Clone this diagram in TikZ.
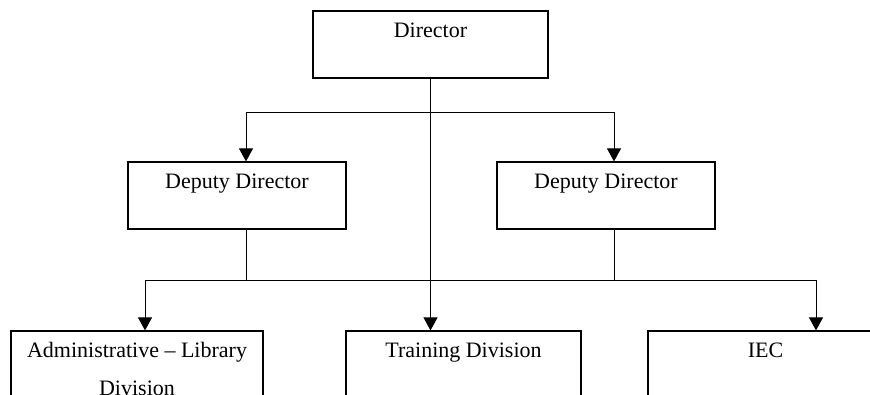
\documentclass[tikz,border=0pt]{standalone}
\usepackage{fontspec}
\setmainfont{Liberation Serif}
\usetikzlibrary{arrows.meta}

\tikzset{
  orgbox/.style={draw=black, line width=1.2pt, rectangle, inner sep=0pt, minimum height=67pt},
  orglabel/.style={inner sep=0pt, font=\fontsize{22}{37.5}\selectfont, align=center},
  link/.style={draw=black, line width=1pt},
  arr/.style={link, -{Triangle[width=14pt,length=13pt]}}
}

\begin{document}
\begin{tikzpicture}[x=1pt, y=-1pt]
  \useasboundingbox (0,0) rectangle (870,394);
  \clip (0,0) rectangle (870,394);

  % boxes
  \node[orgbox, minimum width=235pt] (dir)  at (430.5,44.5) {};
  \node[orgbox, minimum width=218pt] (dep1) at (237,195.5)  {};
  \node[orgbox, minimum width=218pt] (dep2) at (606,195.5)  {};
  \node[orgbox, minimum width=252pt, minimum height=100pt] (adm) at (137,381)   {};
  \node[orgbox, minimum width=235pt, minimum height=100pt] (trn) at (463.5,381) {};
  \node[orgbox, minimum width=235pt, minimum height=100pt] (iec) at (765.5,381) {};

  % labels
  \node[orglabel, anchor=base] (dirL)  at ([yshift=-27pt]dir.north)  {Director};
  \node[orglabel, anchor=base] (dep1L) at ([yshift=-27pt]dep1.north) {Deputy Director};
  \node[orglabel, anchor=base] (dep2L) at ([yshift=-27pt]dep2.north) {Deputy Director};
  \node[orglabel, anchor=north] (admL) at ([yshift=-12pt]adm.north)  {Administrative – Library\\Division};
  \node[orglabel, anchor=base] (trnL)  at ([yshift=-27pt]trn.north)  {Training Division};
  \node[orglabel, anchor=base] (iecL)  at ([yshift=-27pt]iec.north)  {IEC};

  % junction points of the connectors
  \coordinate (top1) at (246,112);
  \coordinate (top2) at (614,112);
  \coordinate (bot1) at (145,280);
  \coordinate (bot2) at (816,280);

  % director to deputies and training
  \draw[arr] (dir.south) -- (dir.south |- trn.north);
  \draw[link] (top1) -- (top2);
  \draw[arr] (top1) -- (top1 |- dep1.north);
  \draw[arr] (top2) -- (top2 |- dep2.north);

  % deputies to divisions
  \draw[link] (top1 |- dep1.south) -- (top1 |- bot1);
  \draw[link] (top2 |- dep2.south) -- (top2 |- bot2);
  \draw[link] (bot1) -- (bot2);
  \draw[arr] (bot1) -- (bot1 |- adm.north);
  \draw[arr] (bot2) -- (bot2 |- iec.north);
\end{tikzpicture}
\end{document}
